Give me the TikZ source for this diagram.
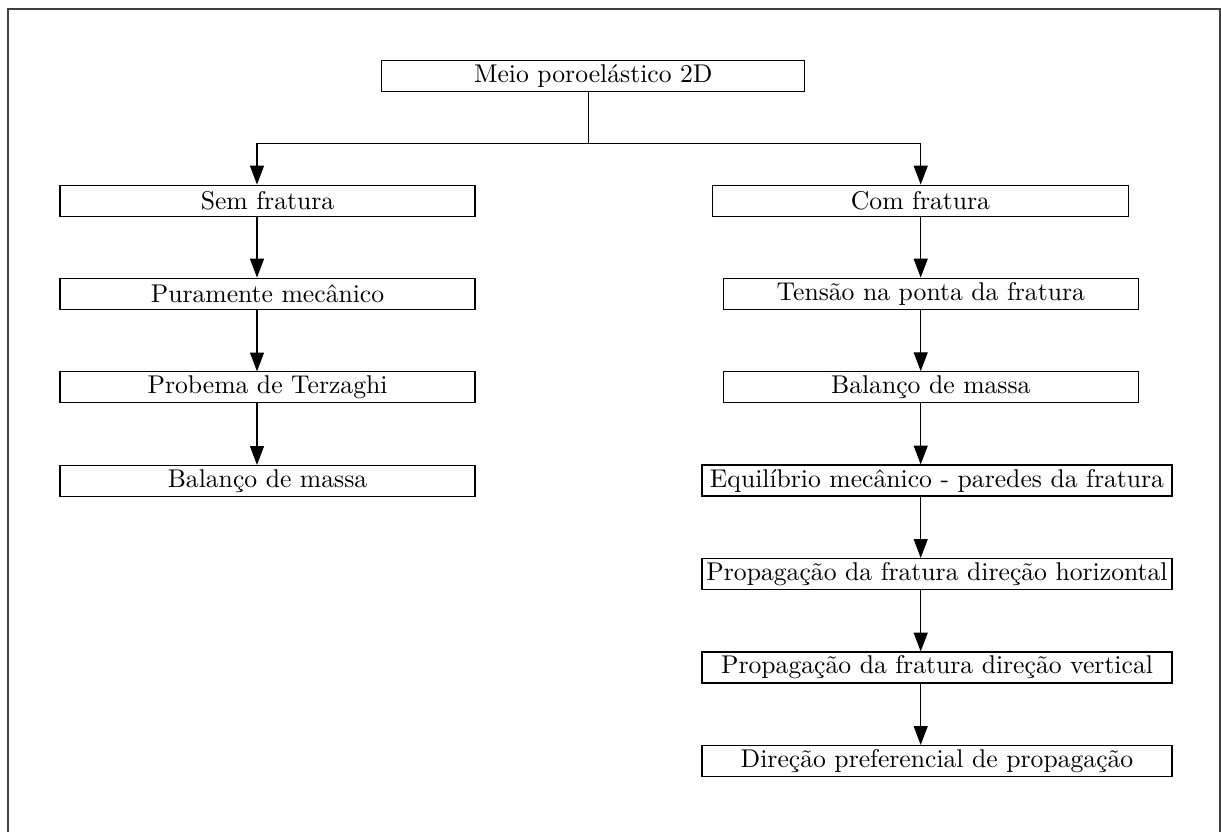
\documentclass[tikz,border=0pt]{standalone}
\usetikzlibrary{arrows.meta,calc}
\begin{document}
\begin{tikzpicture}[x=0.3937pt,y=-0.3937pt,
  box/.style={draw,line width=0.45pt,minimum height=12.2pt,inner sep=0pt,font=\fontsize{10.1}{12}\selectfont},
  wL/.style={minimum width=163.4pt},
  wR/.style={minimum width=185pt},
  conn/.style={line width=0.45pt},
  arr/.style={-{Triangle[length=7.4pt,width=5.5pt]},line width=0.45pt}]
\useasboundingbox (0,0) rectangle (1221,832);
\draw[line width=0.5pt,black!75] (8,900) -- (8,9) -- (1220,9) -- (1220,900);

\node[box,minimum width=166.6pt] (top) at (593.3,76.2) {Meio poroelástico 2D};

\node[box,wL] (sem)  at (267.5,200.6) {Sem fratura};
\node[box,wL] (pura) at (267.5,293.6) {Puramente mecânico};
\node[box,wL] (terz) at (267.5,387.4) {Probema de Terzaghi};
\node[box,wL] (balL) at (267.5,481.0) {Balanço de massa};

\node[box,minimum width=163.6pt] (com) at (920.5,200.6) {Com fratura};
\node[box,wL] (tens) at (930.8,293.6) {Tensão na ponta da fratura};
\node[box,wL] (balR) at (930.8,387.2) {Balanço de massa};
\node[box,wR] (equi) at (937,480.5) {Equilíbrio mecânico - paredes da fratura};
\node[box,wR] (proh) at (937,574.0) {Propagação da fratura direção horizontal};
\node[box,wR] (prov) at (937,667.5) {Propagação da fratura direção vertical};
\node[box,wR] (dir)  at (937,761.0) {Direção preferencial de propagação};

\coordinate (stemx) at (588.3,0);
\coordinate (colL) at (257,0);
\coordinate (colR) at (920.7,0);
\coordinate (split) at (588.3,143.3);

\draw[conn] (top.south -| stemx) -- (split);
\draw[arr] (split) -| (colL |- sem.north);
\draw[arr] (split) -| (colR |- com.north);

\draw[arr] (colL |- sem.south) -- (colL |- pura.north);
\draw[arr] (colL |- pura.south) -- (colL |- terz.north);
\draw[arr] (colL |- terz.south) -- (colL |- balL.north);

\draw[arr] (colR |- com.south) -- (colR |- tens.north);
\draw[arr] (colR |- tens.south) -- (colR |- balR.north);
\draw[arr] (colR |- balR.south) -- (colR |- equi.north);
\draw[arr] (colR |- equi.south) -- (colR |- proh.north);
\draw[arr] (colR |- proh.south) -- (colR |- prov.north);
\draw[arr] (colR |- prov.south) -- (colR |- dir.north);
\end{tikzpicture}
\end{document}
